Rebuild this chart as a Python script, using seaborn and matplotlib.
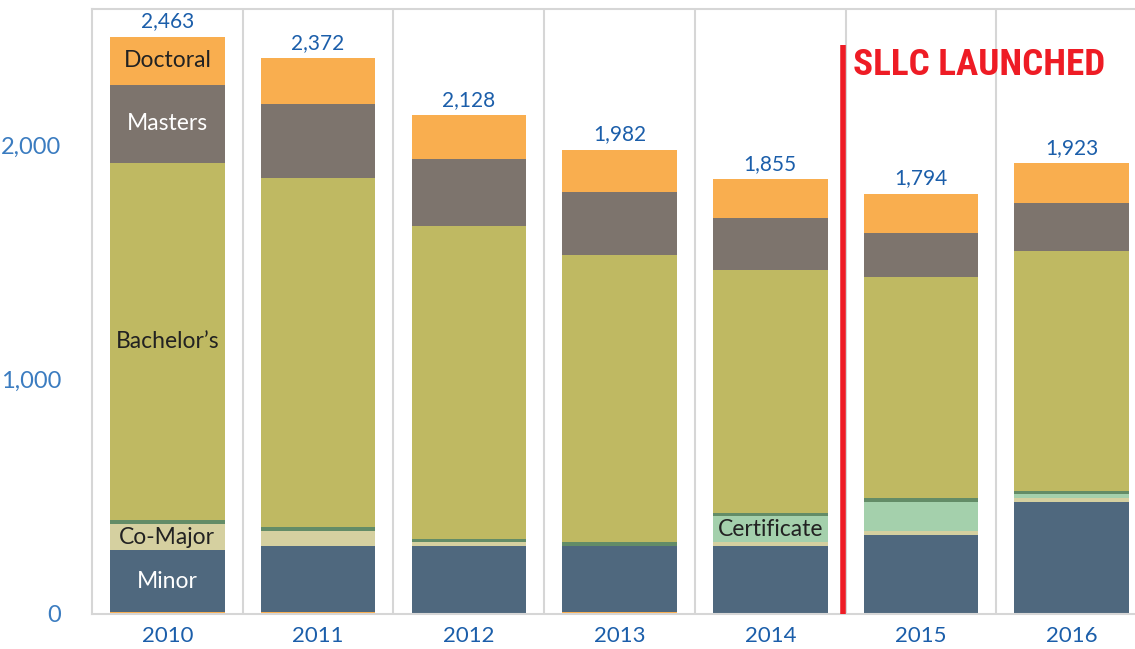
import numpy as np
import matplotlib
matplotlib.use("Agg")
import matplotlib.pyplot as plt
from matplotlib import font_manager
import seaborn as sns

# data
years = ["2010", "2011", "2012", "2013", "2014", "2015", "2016"]
other = [8, 8, 0, 8, 0, 0, 0]
minor = [265, 282, 290, 282, 290, 337, 478]
co_major = [110, 64, 17, 0, 17, 17, 17]
certificate = [0, 0, 0, 0, 111, 124, 17]
associate = [18, 17, 13, 17, 13, 17, 13]
bachelors = [1524, 1490, 1336, 1225, 1037, 943, 1024]
masters = [333, 316, 286, 269, 222, 188, 205]
doctoral = [205, 195, 186, 181, 165, 168, 169]
totals = [2463, 2372, 2128, 1982, 1855, 1794, 1923]

segments = [
    ("Other", other, "#F9AE4F", None),
    ("Minor", minor, "#4F687E", "white"),
    ("Co-Major", co_major, "#D5D0A0", "#222222"),
    ("Certificate", certificate, "#A4D0AC", "#222222"),
    ("Associate", associate, "#638C67", None),
    ("Bachelor\u2019s", bachelors, "#BFB962", "#222222"),
    ("Masters", masters, "#7D746D", "white"),
    ("Doctoral", doctoral, "#F9AE4F", "#222222"),
]
# which bar carries the in-bar label for each segment
label_bar = {"Minor": 0, "Co-Major": 0, "Certificate": 4, "Bachelor\u2019s": 0,
             "Masters": 0, "Doctoral": 0}

launch_pos = 4.485
launch_top = 2428

sns.set_style("white")
plt.rcParams["font.family"] = ["Lato", "DejaVu Sans"]

# pick a narrow font for the banner if one is installed
installed = {f.name for f in font_manager.fontManager.ttflist}
narrow = "DejaVu Sans"
for cand in ["Liberation Sans Narrow", "DejaVu Sans Condensed", "Roboto Condensed",
             "Open Sans Condensed", "Noto Sans Condensed", "Noto Sans Display"]:
    if cand in installed:
        narrow = cand
        break

fig = plt.figure(figsize=(11.35, 6.49), dpi=100)
ax = fig.add_axes([92 / 1135, 35 / 649, 1043 / 1135, 605 / 649])

bottom = np.zeros(len(years))
for name, vals, color, tcolor in segments:
    vals = np.array(vals, dtype=float)
    sns.barplot(x=years, y=vals, bottom=bottom, color=color, width=0.76,
                saturation=1, ax=ax, linewidth=0)
    if name in label_bar:
        i = label_bar[name]
        ax.text(i, bottom[i] + vals[i] / 2, name, ha="center", va="center",
                fontsize=16.5, color=tcolor)
    bottom += vals

for i, t in enumerate(totals):
    ax.annotate(f"{t:,}", (i, t), xytext=(0, 4), textcoords="offset points",
                ha="center", va="bottom", fontsize=15, color="#1B5EAA")

# vertical separators between years
for b in np.arange(0.5, len(years) - 1, 1):
    ax.axvline(b, color="#D6D6D6", lw=1.5, zorder=0)

ax.vlines(launch_pos, 0, launch_top, color="#EE1C25", lw=4, zorder=5)
banner = ax.text(launch_pos + 0.065, launch_top - 8, "SLLC LAUNCHED", ha="left",
                 va="top", fontsize=30, fontweight="bold", color="#EE1C25",
                 family=[narrow, "DejaVu Sans"])
# shrink the banner so it spans the same width as in the reference
fig.canvas.draw()
w = banner.get_window_extent().width
banner.set_fontsize(30 * 252 / w)

ax.set_xlim(-0.5, 6.42)
ax.set_ylim(0, 2582)
ax.set_yticks([0, 1000, 2000])
ax.set_yticklabels(["0", "1,000", "2,000"])
ax.tick_params(axis="y", length=0, pad=22, labelsize=17, labelcolor="#3B7CC0")
ax.tick_params(axis="x", length=0, pad=9, labelsize=16, labelcolor="#1B5EAA")
ax.set_xlabel("")
ax.set_ylabel("")

for s in ["top", "left", "bottom"]:
    ax.spines[s].set_color("#D6D6D6")
    ax.spines[s].set_linewidth(1.5)
ax.spines["right"].set_visible(False)

fig.savefig("out.png", dpi=100)
